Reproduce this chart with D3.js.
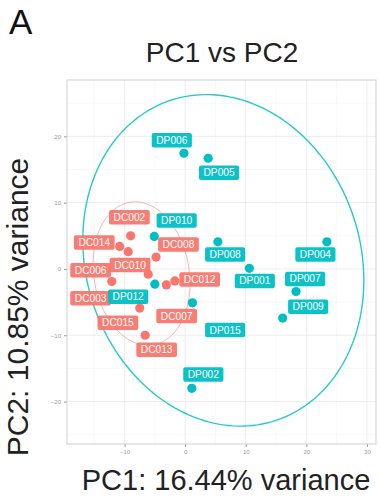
<!DOCTYPE html>
<html>
<head>
<meta charset="utf-8">
<script src="https://cdn.jsdelivr.net/npm/d3@7"></script>
<style>
  html, body { margin: 0; padding: 0; background: #fff; }
  svg { display: block; font-family: "Liberation Sans", Arial, sans-serif; }
</style>
</head>
<body>
<svg id="chart" width="380" height="501"></svg>
<script>
// PCA scores (PC1, PC2) for each sample, with ggrepel-style label anchors
const dpNames = ["DP006","DP005","DP010","DP008","DP004","DP001","DP007","DP009","DP012","DP015","DP002"];
const dpPC1   = [-0.2, 3.8, -5.1, 5.4, 23.4, 10.6, 18.3, 16.1, -5.0, 1.2, 1.1];
const dpPC2   = [17.45, 16.7, 4.9, 4.1, 4.1, 0.1, -3.4, -7.4, -2.3, -5.1, -18.0];
const dpLabX  = [-2.2, 5.6, -1.4, 6.6, 21.5, 11.5, 19.8, 20.3, -9.4, 6.6, 3.0];
const dpLabY  = [19.4, 14.5, 7.3, 2.2, 2.2, -1.8, -1.5, -5.7, -4.2, -9.2, -15.9];

const dcNames = ["DC002","DC014","DC006","DC008","DC010","DC012","DC007","DC003","DC015","DC013"];
const dcPC1   = [-9.0, -10.8, -9.4, -4.8, -6.1, -1.7, -3.1, -12.1, -7.5, -6.6];
const dcPC2   = [5.0, 3.4, 2.6, 1.8, -0.8, -1.8, -2.4, -1.9, -5.9, -10.0];
const dcLabX  = [-9.2, -15.0, -15.6, -1.1, -9.1, 2.4, -1.4, -15.6, -11.1, -4.7];
const dcLabY  = [7.8, 4.0, -0.2, 3.7, 0.6, -1.6, -7.1, -4.4, -8.1, -12.2];

// 95% ellipses: centre and covariance-like spread (xx, yy, xy) per group
const ellipseGroups = ["DC", "DP"];
const ellipseCentre = [[-7.2, -0.7], [6.3, 1.3]];
const ellipseSpread = [[64, 117, -11.6], [538, 625, -70]];

const xTicks = [-10, 0, 10, 20, 30];
const yTicks = [-20, -10, 0, 10, 20];
const xMinor = [-15, -5, 5, 15, 25];
const yMinor = [-25, -15, -5, 5, 15, 25];

const colours = { DC: "#F8766D", DP: "#00BFC4" };

const svg = d3.select("#chart");
const panel = { left: 67, right: 376, top: 80, bottom: 444 };

const x = d3.scaleLinear().domain([-19.5, 31.5]).range([panel.left, panel.right]);
const y = d3.scaleLinear().domain([-26.4, 28.5]).range([panel.bottom, panel.top]);

// panel letter and title
svg.append("text").attr("x", 9).attr("y", 34).attr("font-size", 35).attr("fill", "#111").text("A");
svg.append("text").attr("x", 222).attr("y", 62).attr("text-anchor", "middle")
  .attr("font-size", 28).attr("fill", "#222").text("PC1 vs PC2");

// grid
const g = svg.append("g");
g.selectAll(".xminor").data(xMinor).join("line")
  .attr("x1", d => x(d)).attr("x2", d => x(d)).attr("y1", panel.top).attr("y2", panel.bottom)
  .attr("stroke", "#f4f4f4").attr("stroke-width", 0.6);
g.selectAll(".yminor").data(yMinor.filter(v => y(v) > panel.top && y(v) < panel.bottom)).join("line")
  .attr("y1", d => y(d)).attr("y2", d => y(d)).attr("x1", panel.left).attr("x2", panel.right)
  .attr("stroke", "#f4f4f4").attr("stroke-width", 0.6);
g.append("g").selectAll("line").data(xTicks).join("line")
  .attr("x1", d => x(d)).attr("x2", d => x(d)).attr("y1", panel.top).attr("y2", panel.bottom)
  .attr("stroke", "#ebebeb").attr("stroke-width", 0.9);
g.append("g").selectAll("line").data(yTicks).join("line")
  .attr("y1", d => y(d)).attr("y2", d => y(d)).attr("x1", panel.left).attr("x2", panel.right)
  .attr("stroke", "#ebebeb").attr("stroke-width", 0.9);

// axes
const xAxis = svg.append("g").attr("transform", `translate(0,${panel.bottom})`)
  .call(d3.axisBottom(x).tickValues(xTicks).tickSize(3).tickPadding(3).tickFormat(d3.format("d")));
const yAxis = svg.append("g").attr("transform", `translate(${panel.left},0)`)
  .call(d3.axisLeft(y).tickValues(yTicks).tickSize(3).tickPadding(3).tickFormat(d3.format("d")));
[xAxis, yAxis].forEach(a => {
  a.select(".domain").remove();
  a.selectAll(".tick line").attr("stroke", "#999");
  a.selectAll(".tick text").attr("fill", "#999").attr("font-size", 6)
    .attr("font-family", "'Liberation Sans', Arial, sans-serif");
});

// panel border
svg.append("rect").attr("x", panel.left).attr("y", panel.top)
  .attr("width", panel.right - panel.left).attr("height", panel.bottom - panel.top)
  .attr("fill", "none").attr("stroke", "#cfcfcf").attr("stroke-width", 1);

// ellipses
const line = d3.line().x(d => x(d[0])).y(d => y(d[1]));
ellipseGroups.forEach((grp, i) => {
  const [cx, cy] = ellipseCentre[i];
  const [sxx, syy, sxy] = ellipseSpread[i];
  const a = Math.sqrt(sxx), b = sxy / a, c = Math.sqrt(syy - b * b);
  const pts = d3.range(0, 361, 2).map(deg => {
    const t = deg * Math.PI / 180;
    return [cx + a * Math.cos(t), cy + b * Math.cos(t) + c * Math.sin(t)];
  });
  svg.append("path").attr("d", line(pts)).attr("fill", "none")
    .attr("stroke", colours[grp])
    .attr("stroke-width", grp === "DP" ? 1.4 : 1)
    .attr("stroke-opacity", grp === "DP" ? 0.85 : 0.55);
});

const dc = dcNames.map((n, i) => ({ name: n, grp: "DC", px: dcPC1[i], py: dcPC2[i], lx: dcLabX[i], ly: dcLabY[i] }));
const dp = dpNames.map((n, i) => ({ name: n, grp: "DP", px: dpPC1[i], py: dpPC2[i], lx: dpLabX[i], ly: dpLabY[i] }));
const all = dc.concat(dp);

// points
svg.append("g").selectAll("circle").data(all).join("circle")
  .attr("cx", d => x(d.px)).attr("cy", d => y(d.py)).attr("r", 4.6)
  .attr("fill", d => colours[d.grp]);

// labels
const lab = svg.append("g").selectAll("g").data(all).join("g")
  .attr("transform", d => `translate(${x(d.lx)},${y(d.ly)})`);
lab.append("rect").attr("class", "box");
lab.append("text").attr("text-anchor", "middle").attr("dy", "0.35em")
  .attr("font-size", 10.2).attr("fill", "#fff").text(d => d.name);
lab.each(function(d) {
  const gEl = d3.select(this);
  const w = gEl.select("text").node().getComputedTextLength() + 9;
  const h = 14.5;
  gEl.select("rect").attr("x", -w / 2).attr("y", -h / 2).attr("width", w).attr("height", h)
    .attr("rx", 2).attr("fill", colours[d.grp]).attr("fill-opacity", 0.95);
});

// axis titles
svg.append("text").attr("x", 226).attr("y", 490).attr("text-anchor", "middle")
  .attr("font-size", 29).attr("fill", "#222").text("PC1: 16.44% variance");
svg.append("text").attr("transform", `translate(28,${(panel.top + panel.bottom) / 2 + 45}) rotate(-90)`)
  .attr("text-anchor", "middle").attr("font-size", 30).attr("fill", "#222").text("PC2: 10.85% variance");
</script>
</body>
</html>
